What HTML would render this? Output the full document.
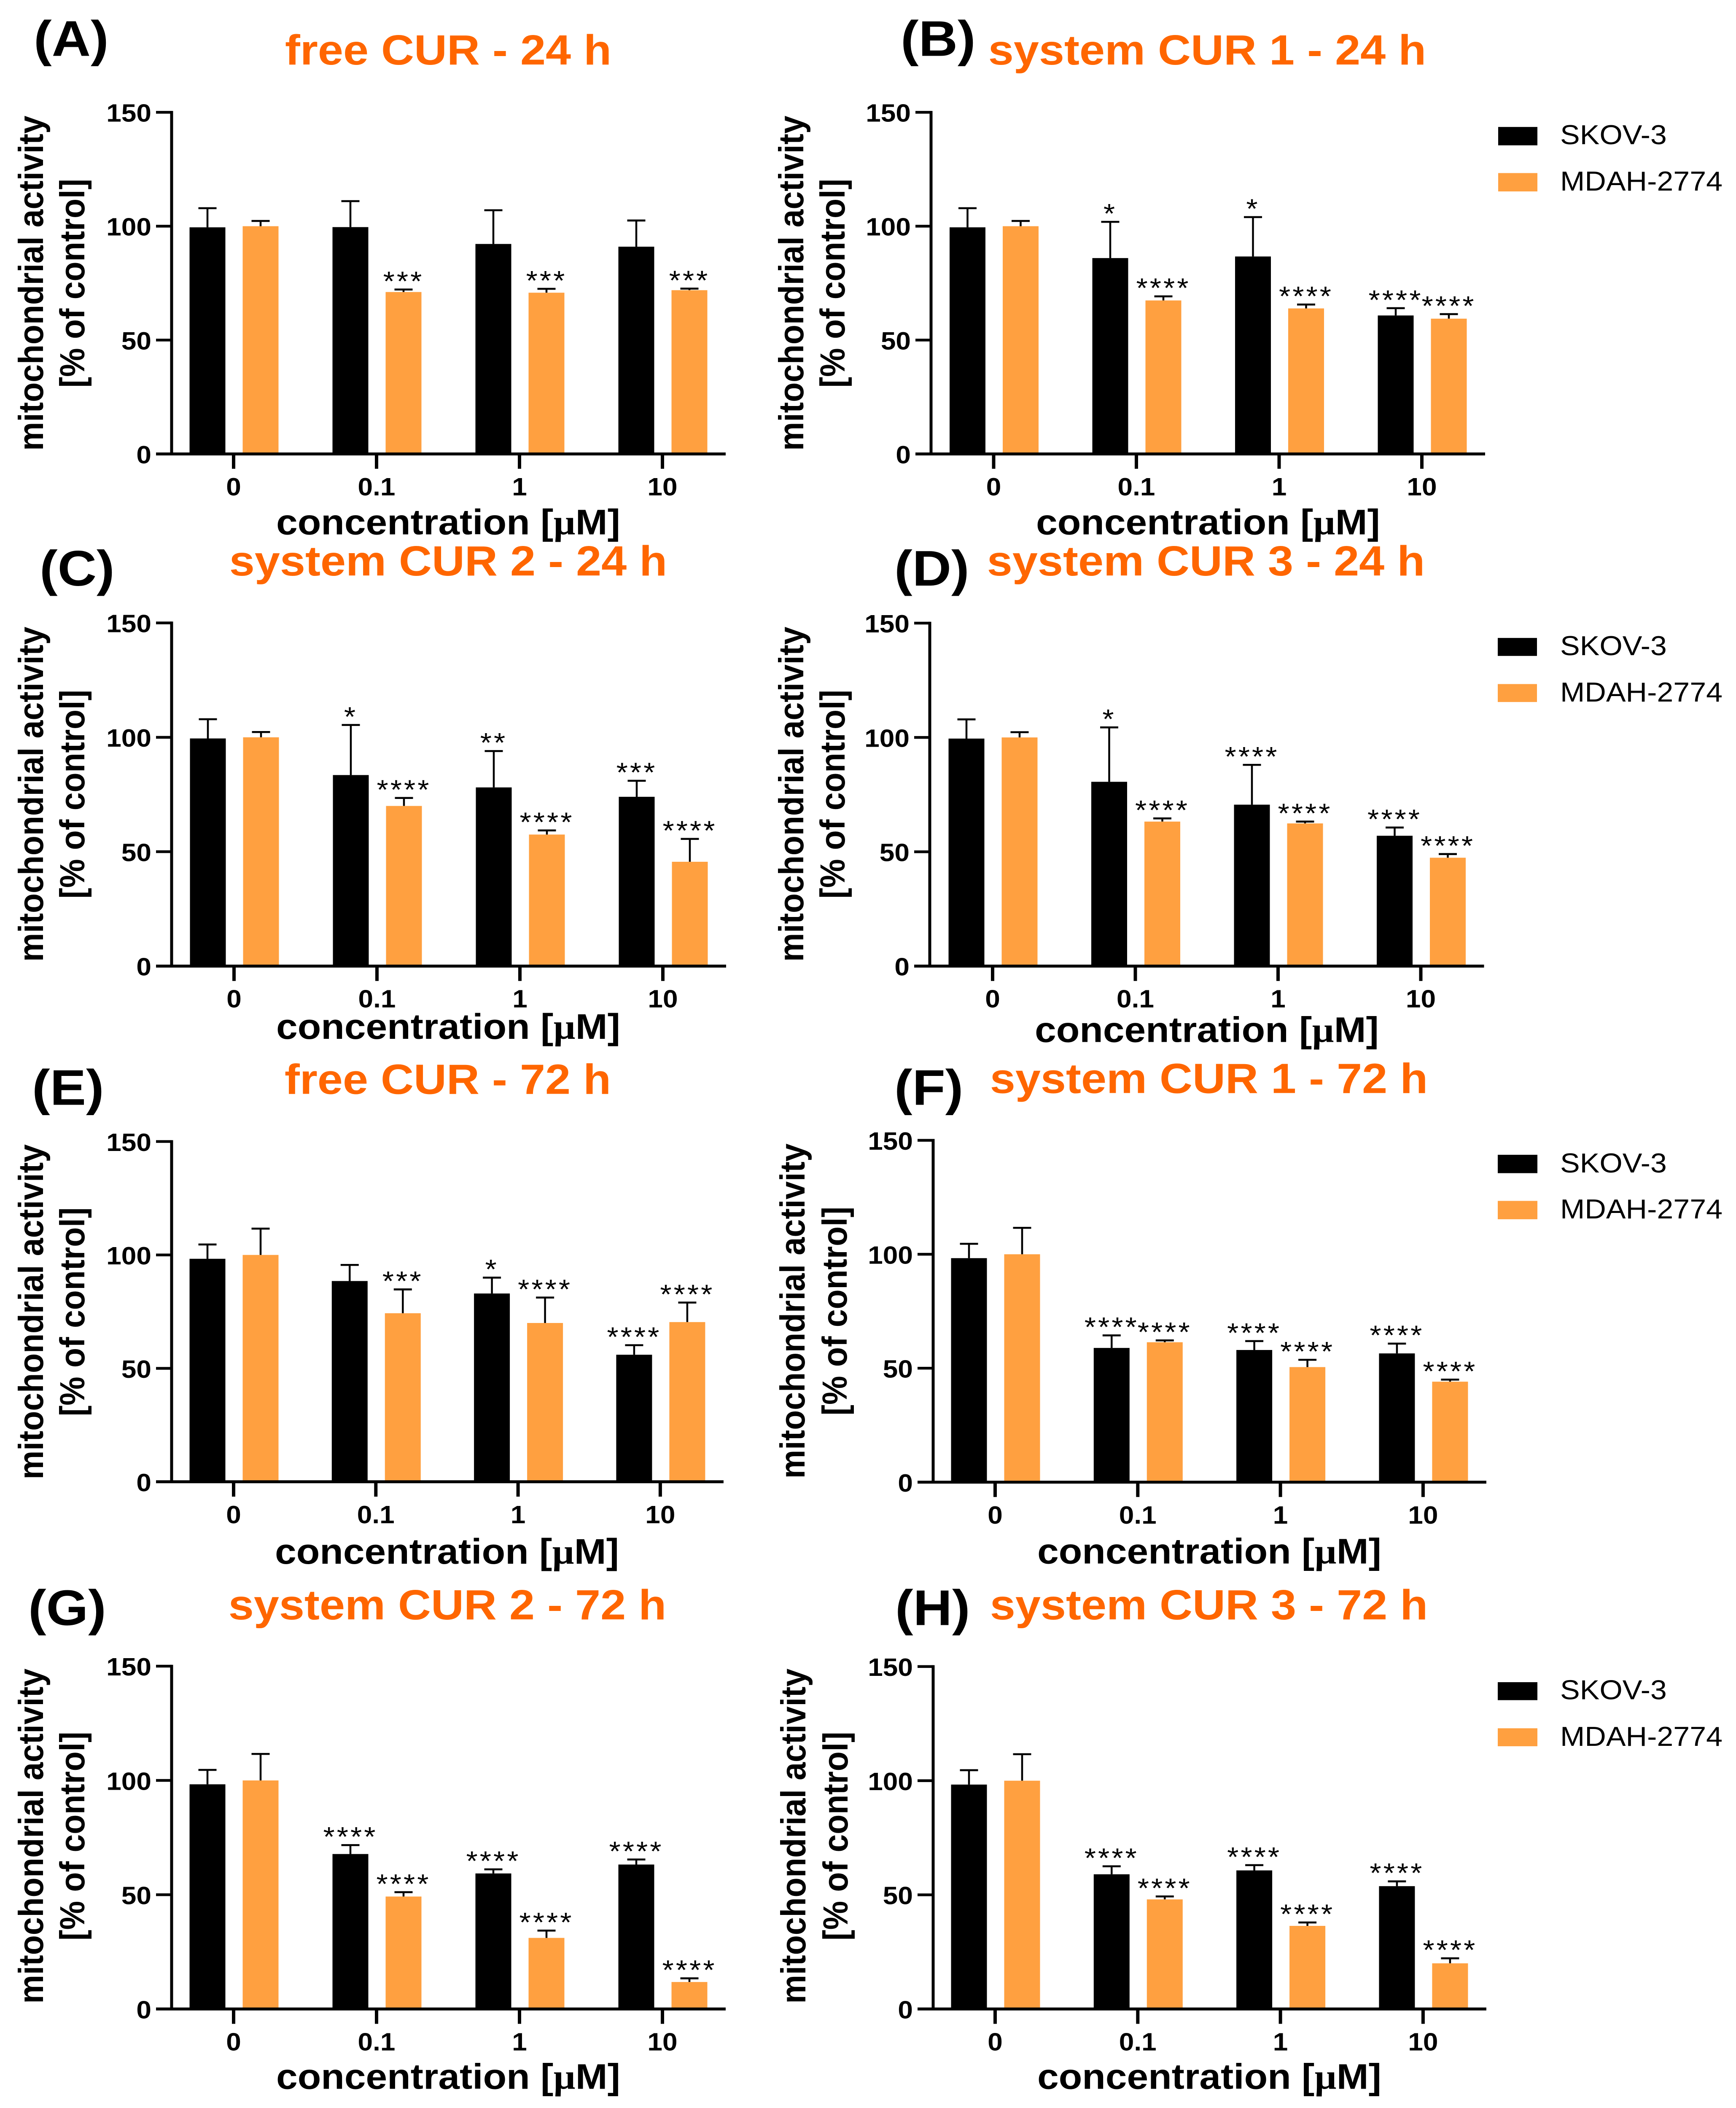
<!DOCTYPE html>
<html lang="en">
<head>
<meta charset="utf-8">
<title>Mitochondrial activity of SKOV-3 and MDAH-2774 cells</title>
<style>
html,body{margin:0;padding:0;background:#fff;width:100%;height:100%;overflow:hidden}
svg{display:block;position:absolute;left:0;top:0;width:100vw;height:100vh}
text{font-family:"Liberation Sans",sans-serif;fill:#000}
.title{font-size:108px;font-weight:700;fill:#FF6600;text-anchor:middle}
.label{font-size:128px;font-weight:700}
.ytitle{font-size:83px;font-weight:700;text-anchor:middle}
.xtitle{font-size:91px;font-weight:700;text-anchor:middle}
.mu{font-family:"Liberation Serif",serif;font-weight:700}
.tick{font-size:64px;font-weight:700}
.sig{font-size:70px;text-anchor:middle;letter-spacing:5px}
.leg{font-size:70px}
</style>
</head>
<body>
<svg id="figure" xmlns="http://www.w3.org/2000/svg" viewBox="0 0 4117 5396" preserveAspectRatio="none">
<rect width="4117" height="5396" fill="#fff"/>

<g id="panel-A">
<text class="label" x="80" y="143">(A)</text>
<text class="title" x="1063" y="165">free CUR - 24 h</text>
<text class="ytitle" transform="translate(102 725) rotate(-90)">mitochondrial activity</text>
<text class="ytitle" transform="translate(200 725) rotate(-90)">[% of control]</text>
<text class="xtitle" x="1063" y="1368">concentration [<tspan class="mu">µ</tspan>M]</text>
</g>

<g id="panel-B">
<text class="label" x="2136" y="143">(B)</text>
<text class="title" x="2863" y="165">system CUR 1 - 24 h</text>
<text class="ytitle" transform="translate(1905 725) rotate(-90)">mitochondrial activity</text>
<text class="ytitle" transform="translate(2003 725) rotate(-90)">[% of control]</text>
<text class="xtitle" x="2865" y="1368">concentration [<tspan class="mu">µ</tspan>M]</text>
<g>
<rect x="3553" y="325" width="93" height="47" fill="#000"/>
<text class="leg" x="3700" y="369">SKOV-3</text>
<rect x="3553" y="443" width="93" height="47" fill="#FFA040"/>
<text class="leg" x="3700" y="488">MDAH-2774</text>
</g>
</g>

<g id="panel-C">
<text class="label" x="94" y="1499">(C)</text>
<text class="title" x="1063" y="1473">system CUR 2 - 24 h</text>
<text class="ytitle" transform="translate(102 2033) rotate(-90)">mitochondrial activity</text>
<text class="ytitle" transform="translate(200 2033) rotate(-90)">[% of control]</text>
<text class="xtitle" x="1063" y="2659">concentration [<tspan class="mu">µ</tspan>M]</text>
</g>

<g id="panel-D">
<text class="label" x="2121" y="1499">(D)</text>
<text class="title" x="2860" y="1473">system CUR 3 - 24 h</text>
<text class="ytitle" transform="translate(1905 2033) rotate(-90)">mitochondrial activity</text>
<text class="ytitle" transform="translate(2003 2033) rotate(-90)">[% of control]</text>
<text class="xtitle" x="2862" y="2667">concentration [<tspan class="mu">µ</tspan>M]</text>
<g>
<rect x="3552" y="1633" width="93" height="46" fill="#000"/>
<text class="leg" x="3700" y="1677">SKOV-3</text>
<rect x="3552" y="1751" width="93" height="46" fill="#FFA040"/>
<text class="leg" x="3700" y="1796">MDAH-2774</text>
</g>
</g>

<g id="panel-E">
<text class="label" x="76" y="2828">(E)</text>
<text class="title" x="1062" y="2800">free CUR - 72 h</text>
<text class="ytitle" transform="translate(102 3358) rotate(-90)">mitochondrial activity</text>
<text class="ytitle" transform="translate(200 3358) rotate(-90)">[% of control]</text>
<text class="xtitle" x="1060" y="4003">concentration [<tspan class="mu">µ</tspan>M]</text>
</g>

<g id="panel-F">
<text class="label" x="2121" y="2828">(F)</text>
<text class="title" x="2867" y="2798">system CUR 1 - 72 h</text>
<text class="ytitle" transform="translate(1908 3356) rotate(-90)">mitochondrial activity</text>
<text class="ytitle" transform="translate(2008 3356) rotate(-90)">[% of control]</text>
<text class="xtitle" x="2868" y="4002">concentration [<tspan class="mu">µ</tspan>M]</text>
<g>
<rect x="3552" y="2956" width="94" height="47" fill="#000"/>
<text class="leg" x="3700" y="3001">SKOV-3</text>
<rect x="3552" y="3074" width="94" height="47" fill="#FFA040"/>
<text class="leg" x="3700" y="3119">MDAH-2774</text>
</g>
</g>

<g id="panel-G">
<text class="label" x="67" y="4160">(G)</text>
<text class="title" x="1061" y="4145">system CUR 2 - 72 h</text>
<text class="ytitle" transform="translate(102 4700) rotate(-90)">mitochondrial activity</text>
<text class="ytitle" transform="translate(200 4700) rotate(-90)">[% of control]</text>
<text class="xtitle" x="1063" y="5347">concentration [<tspan class="mu">µ</tspan>M]</text>
</g>

<g id="panel-H">
<text class="label" x="2123" y="4160">(H)</text>
<text class="title" x="2867" y="4145">system CUR 3 - 72 h</text>
<text class="ytitle" transform="translate(1910 4700) rotate(-90)">mitochondrial activity</text>
<text class="ytitle" transform="translate(2010 4700) rotate(-90)">[% of control]</text>
<text class="xtitle" x="2868" y="5347">concentration [<tspan class="mu">µ</tspan>M]</text>
<g>
<rect x="3552" y="4306" width="94" height="46" fill="#000"/>
<text class="leg" x="3700" y="4350">SKOV-3</text>
<rect x="3552" y="4424" width="94" height="46" fill="#FFA040"/>
<text class="leg" x="3700" y="4469">MDAH-2774</text>
</g>
</g>
</svg>

<script>
const concentrations = ['0', '0.1', '1', '10'];
const yTickValues = [0, 50, 100, 150];
const yMax = 150;

const skovMeanA = [99.5, 99.6, 92.2, 91];
const skovSdA = [8.4, 11.4, 14.8, 11.5];
const mdahMeanA = [100, 71.1, 70.8, 71.9];
const mdahSdA = [2.3, 1.1, 1.7, 0.7];
const skovSigA = ['', '', '', ''];
const mdahSigA = ['', '***', '***', '***'];

const skovMeanB = [99.5, 86, 86.7, 60.8];
const skovSdB = [8.4, 15.9, 17.3, 3.2];
const mdahMeanB = [100, 67.4, 63.9, 59.4];
const mdahSdB = [2.3, 1.8, 1.7, 2];
const skovSigB = ['', '*', '*', '****'];
const mdahSigB = ['', '****', '****', '****'];

const skovMeanC = [99.5, 83.5, 78.1, 74];
const skovSdC = [8.4, 21.9, 15.9, 7];
const mdahMeanC = [100, 70, 57.5, 45.6];
const mdahSdC = [2.3, 3.5, 1.8, 10];
const skovSigC = ['', '*', '**', '***'];
const mdahSigC = ['', '****', '****', '****'];

const skovMeanD = [99.5, 80.6, 70.6, 57];
const skovSdD = [8.4, 23.8, 17.4, 3.6];
const mdahMeanD = [100, 63.2, 62.4, 47.4];
const mdahSdD = [2.3, 1.4, 0.8, 1.6];
const skovSigD = ['', '*', '****', '****'];
const mdahSigD = ['', '****', '****', '****'];

const skovMeanE = [98.3, 88.5, 83, 56];
const skovSdE = [6.3, 7.1, 7, 4.2];
const mdahMeanE = [100, 74.3, 70, 70.4];
const mdahSdE = [11.6, 10.5, 11.2, 8.6];
const skovSigE = ['', '', '*', '****'];
const mdahSigE = ['', '***', '****', '****'];

const skovMeanF = [98.3, 58.9, 58, 56.5];
const skovSdF = [6.3, 5.5, 3.9, 4.3];
const mdahMeanF = [100, 61.4, 50.5, 44.1];
const mdahSdF = [11.6, 0.8, 3.2, 0.9];
const skovSigF = ['', '****', '****', '****'];
const mdahSigF = ['', '****', '****', '****'];

const skovMeanG = [98.3, 67.8, 59.3, 63.2];
const skovSdG = [6.3, 3.9, 1.8, 2.2];
const mdahMeanG = [100, 49.2, 31.1, 11.8];
const mdahSdG = [11.6, 1.9, 3.2, 1.6];
const skovSigG = ['', '****', '****', '****'];
const mdahSigG = ['', '****', '****', '****'];

const skovMeanH = [98.3, 59, 60.7, 53.8];
const skovSdH = [6.3, 3.5, 2.3, 2.1];
const mdahMeanH = [100, 48, 36.4, 20];
const mdahSdH = [11.6, 1.3, 1.5, 2.2];
const skovSigH = ['', '****', '****', '****'];
const mdahSigH = ['', '****', '****', '****'];

const SVG_NS = 'http://www.w3.org/2000/svg';
const ORANGE = '#FFA040';
const BAR_W = 85;

function mk(parent, tag, props) {
  const el = document.createElementNS(SVG_NS, tag);
  for (const k in props) el.setAttribute(k, props[k]);
  parent.appendChild(el);
  return el;
}

function drawSeries(g, key, color, means, sds, sigs, xOf, yOf, offset) {
  means.forEach(function (mean, i) {
    const cx = xOf(i) + offset;
    const topY = yOf(mean + sds[i]);

    const stem = mk(g, 'line', { x1: cx, x2: cx, y1: yOf(mean), y2: topY, stroke: '#000', 'stroke-width': 4.5 });
    
    

    const cap = mk(g, 'line', { x1: cx - 21.5, x2: cx + 21.5, y1: topY, y2: topY, stroke: '#000', 'stroke-width': 5 });
    
    

    const bar = mk(g, 'rect', { x: cx - BAR_W / 2, y: yOf(mean), width: BAR_W, height: yOf(0) - yOf(mean), fill: color });
    
    

    if (sigs[i]) {
      const sig = mk(g, 'text', { class: 'sig', x: cx, y: topY + 3 });
      sig.textContent = sigs[i];
      
      
    }
  });
}

function drawPanel(id, axisX, top, zero, tick0, tickStep, skovMean, skovSd, mdahMean, mdahSd, skovSig, mdahSig) {
  const g = document.getElementById('panel-' + id);
  const yOf = function (v) { return zero - (v / yMax) * (zero - top); };
  const xOf = function (i) { return tick0 + i * tickStep; };

  drawSeries(g, 'skov-3', '#000', skovMean, skovSd, skovSig, xOf, yOf, -62);
  drawSeries(g, 'mdah-2774', ORANGE, mdahMean, mdahSd, mdahSig, xOf, yOf, 64);

  const yAxis = mk(g, 'line', { x1: axisX, x2: axisX, y1: top - 3.5, y2: zero + 3, stroke: '#000', 'stroke-width': 7 });
  
  

  const xAxis = mk(g, 'line', { x1: axisX - 37, x2: xOf(concentrations.length - 1) + 150, y1: zero, y2: zero, stroke: '#000', 'stroke-width': 7.5 });
  
  

  yTickValues.forEach(function (v) {
    const tick = mk(g, 'line', { x1: axisX - 37, x2: axisX, y1: yOf(v), y2: yOf(v), stroke: '#000', 'stroke-width': 7 });
    
    
    const lab = mk(g, 'text', { class: 'tick', x: axisX - 48, y: yOf(v) + 24, 'text-anchor': 'end' });
    lab.textContent = String(v);
    
    
  });

  concentrations.forEach(function (c, i) {
    const tick = mk(g, 'line', { x1: xOf(i), x2: xOf(i), y1: zero, y2: zero + 38, stroke: '#000', 'stroke-width': 8 });
    
    
    const lab = mk(g, 'text', { class: 'tick', x: xOf(i), y: zero + 106, 'text-anchor': 'middle' });
    lab.textContent = c;
    
    
  });
}

drawPanel('A', 407, 287.5, 1162, 554, 339, skovMeanA, skovSdA, mdahMeanA, mdahSdA, skovSigA, mdahSigA);
drawPanel('B', 2208, 287.5, 1162, 2356.5, 338.5, skovMeanB, skovSdB, mdahMeanB, mdahSdB, skovSigB, mdahSigB);
drawPanel('C', 407, 1594.5, 2473, 555, 339, skovMeanC, skovSdC, mdahMeanC, mdahSdC, skovSigC, mdahSigC);
drawPanel('D', 2205, 1595, 2473, 2354, 338.5, skovMeanD, skovSdD, mdahMeanD, mdahSdD, skovSigD, mdahSigD);
drawPanel('E', 407, 2922, 3793, 554, 337.3, skovMeanE, skovSdE, mdahMeanE, mdahSdE, skovSigE, mdahSigE);
drawPanel('F', 2213, 2919, 3794, 2360, 338.3, skovMeanF, skovSdF, mdahMeanF, mdahSdF, skovSigF, mdahSigF);
drawPanel('G', 407, 4265, 5142.5, 554, 339, skovMeanG, skovSdG, mdahMeanG, mdahSdG, skovSigG, mdahSigG);
drawPanel('H', 2213, 4266, 5142.5, 2360, 338.3, skovMeanH, skovSdH, mdahMeanH, mdahSdH, skovSigH, mdahSigH);
</script>
</body>
</html>
